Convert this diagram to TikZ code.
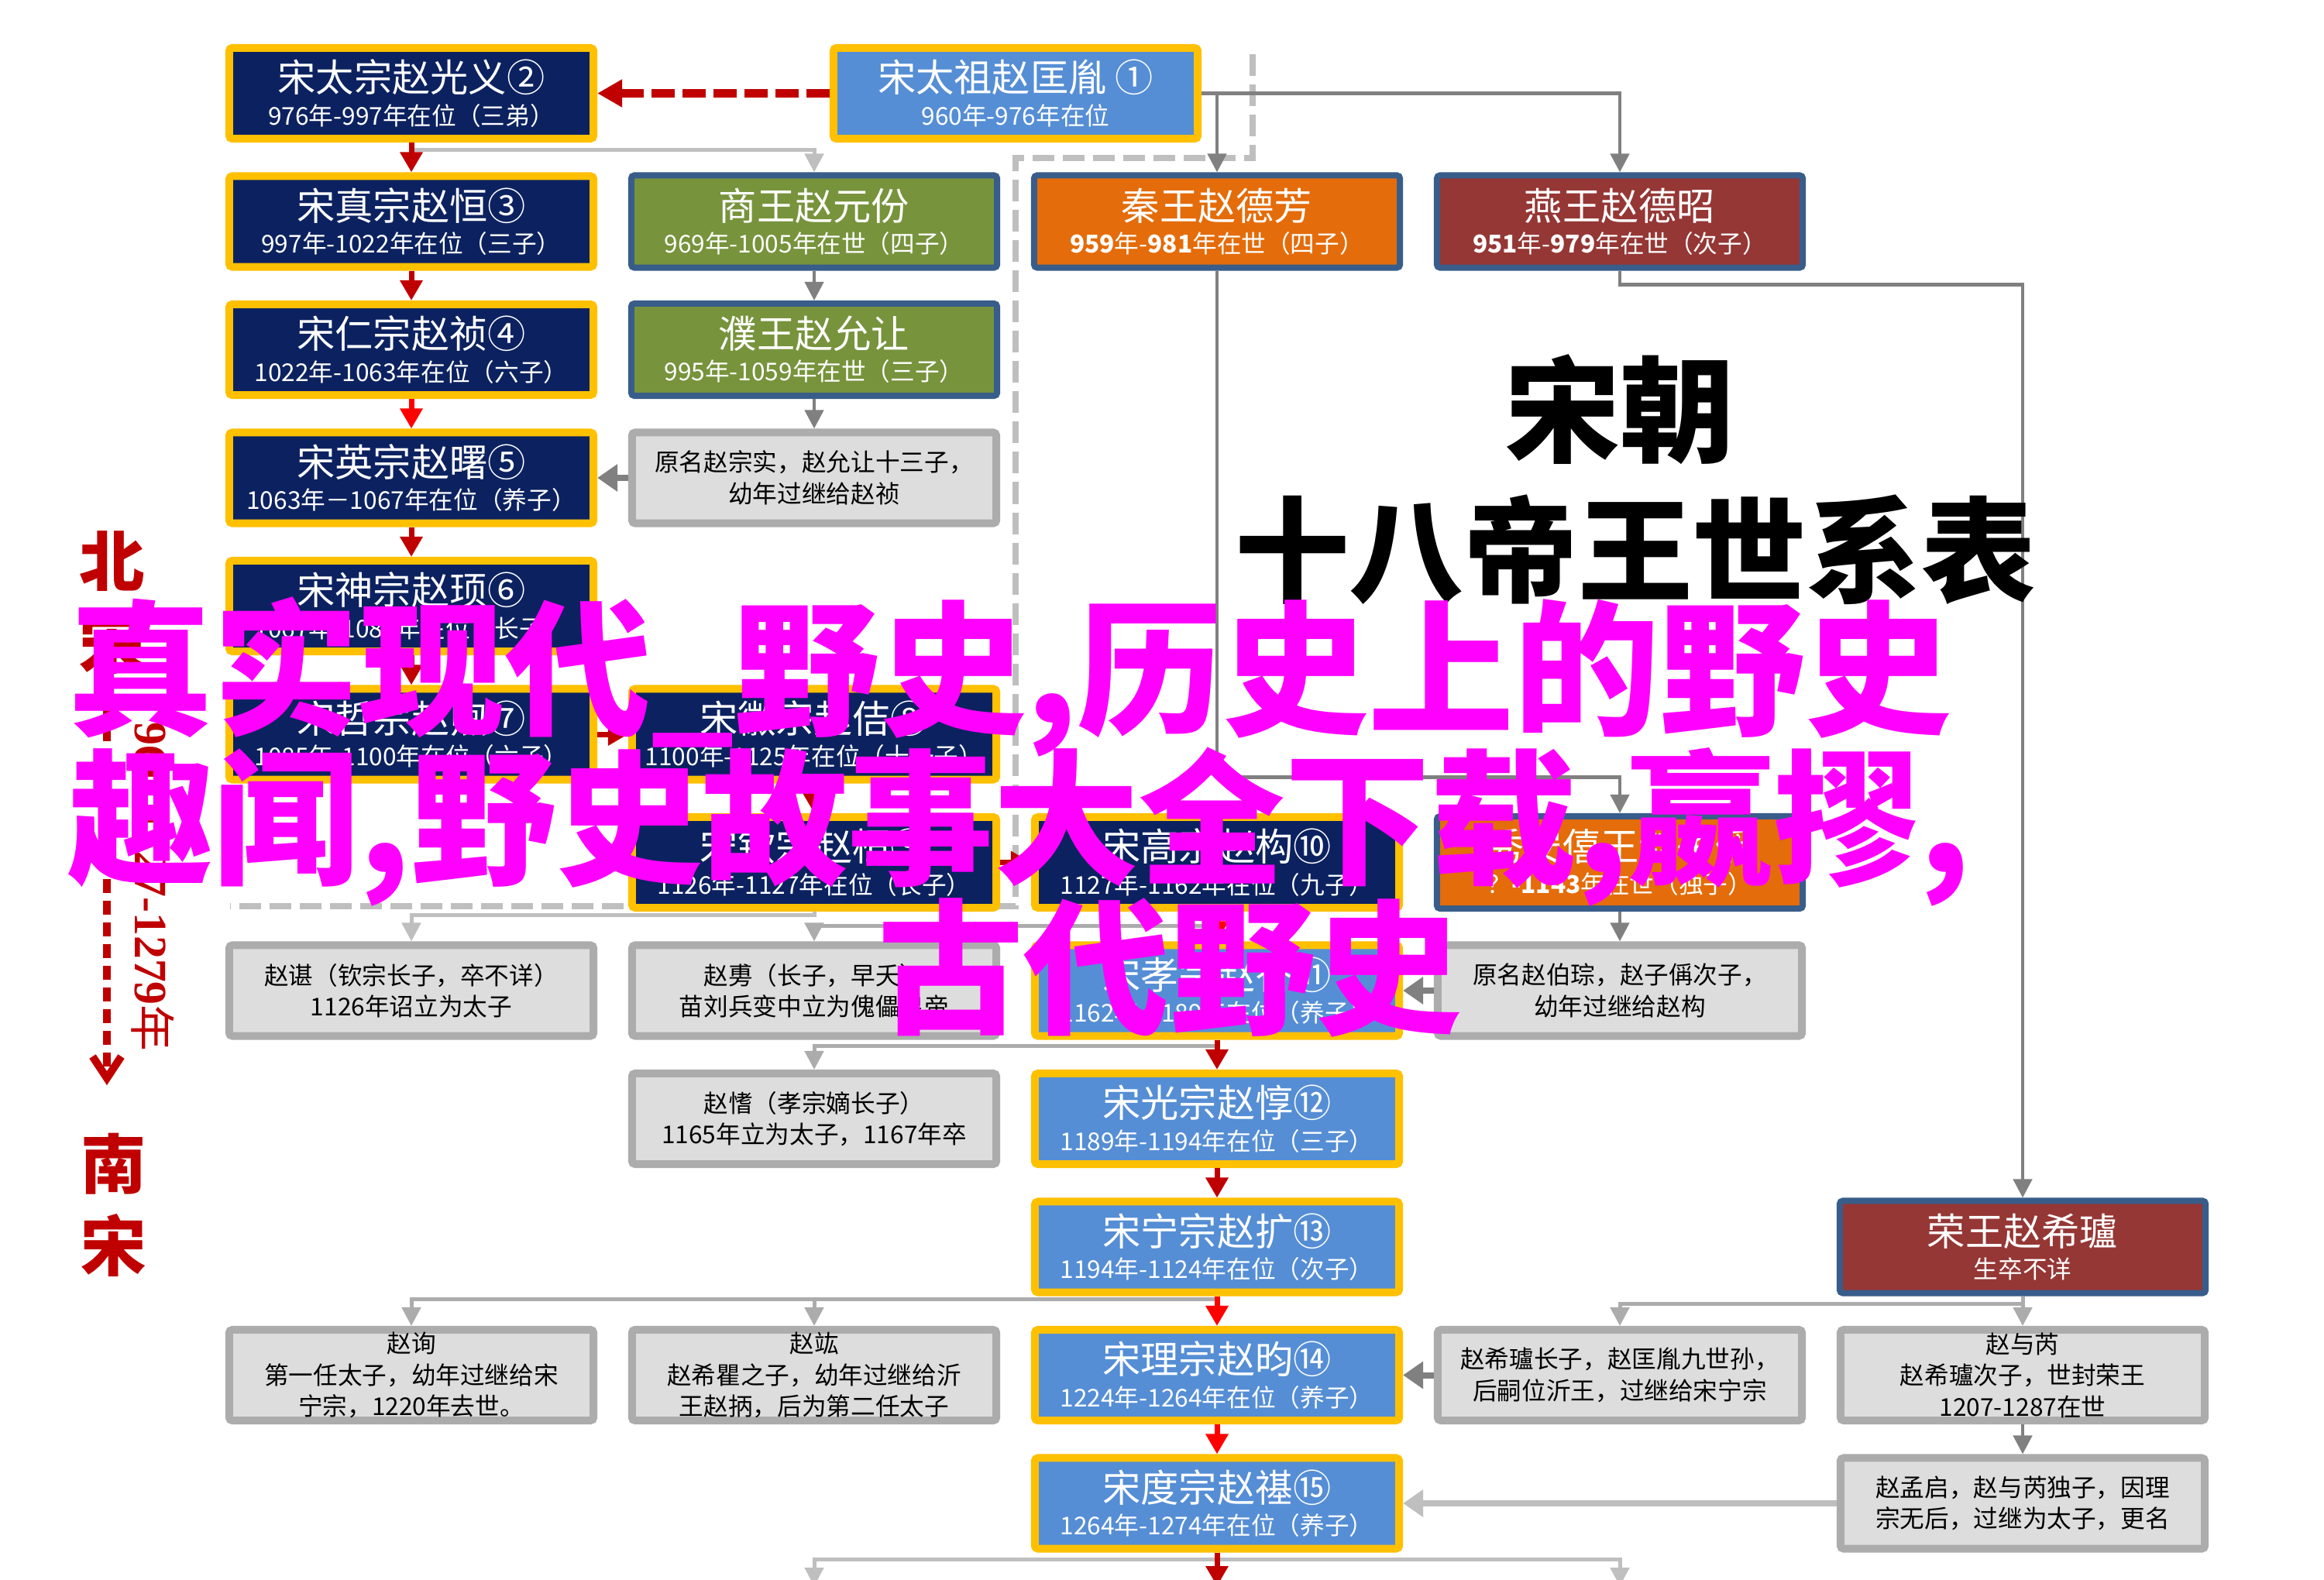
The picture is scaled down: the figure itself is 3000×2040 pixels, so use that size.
\documentclass[tikz,border=0pt]{standalone}
\usepackage{fontspec}
\setmainfont{Noto Sans CJK SC}
\newfontfamily\numfont{Liberation Serif}
\usepackage{tikz}
\usetikzlibrary{arrows.meta}
\usepackage{xcolor}
\definecolor{navy}{RGB}{12,34,96}
\definecolor{gold}{RGB}{255,192,0}
\definecolor{skyblue}{RGB}{85,142,213}
\definecolor{kinggreen}{RGB}{119,147,60}
\definecolor{kingorange}{RGB}{228,108,10}
\definecolor{brick}{RGB}{149,55,53}
\definecolor{slate}{RGB}{56,93,138}
\definecolor{notefill}{RGB}{221,221,221}
\definecolor{noteline}{RGB}{172,172,172}
\definecolor{darkred}{RGB}{192,0,0}
\definecolor{seopink}{RGB}{255,0,255}
\newcommand{\boxtext}[2]{{\fontsize{14}{16}\selectfont #1}\\[1pt]#2}
\tikzset{
	box/.style={draw, line width=1mm, minimum width=4.7cm, minimum height=1.17cm, inner sep=0pt, align=center, text=white, rounded corners=0.4mm, font=\fontsize{9}{11}\selectfont},
	bsemp/.style={box, draw=gold, fill=navy},
	nsemp/.style={box, draw=gold, fill=skyblue},
	prince/.style={box, draw=slate, line width=0.8mm, minimum width=4.72cm, minimum height=1.19cm},
	note/.style={box, draw=noteline, fill=notefill, text=black, font=\fontsize{9}{11.5}\selectfont},
	redline/.style={draw=darkred, line width=0.7mm, -{Triangle[length=2.6mm,width=2.8mm]}},
	reddash/.style={draw=red, line width=0.7mm, dash pattern=on 1.6mm off 0.8mm, -{Triangle[length=2.6mm,width=2.8mm]}},
	topred/.style={draw=darkred, line width=1.1mm, dash pattern=on 3mm off 1mm, -{Triangle[length=3.2mm,width=3.4mm]}},
	grayline/.style={draw=gray, line width=0.45mm, -{Triangle[length=2.4mm,width=2.4mm]}},
	midline/.style={draw=noteline, line width=0.5mm, -{Triangle[length=2.4mm,width=2.4mm]}},
	paleline/.style={draw=lightgray, line width=0.5mm, -{Triangle[length=2.4mm,width=2.4mm]}},
	notearrow/.style={draw=gray, line width=0.8mm, -{Triangle[length=2.6mm,width=3.4mm]}},
	bound/.style={draw=lightgray, line width=0.8mm, dash pattern=on 2.8mm off 1.1mm},
	callig/.style={text=darkred, align=center, font=\fontsize{24}{30}\selectfont\bfseries},
	bigtitle/.style={text=black, font=\fontsize{42}{48}\selectfont\bfseries},
	seo/.style={text=seopink, anchor=base west, inner sep=0pt, font=\fontsize{53.5}{60}\selectfont\bfseries}
}

\begin{document}
\begin{tikzpicture}[x=0.01cm, y=-0.01cm]
			\useasboundingbox[fill=white] (0,0) rectangle (3000,2040);
			\draw[bound] (1617,70) -- (1617,204) -- (1311,204) -- (1311,1170) -- (297,1170);
			\node[nsemp] (1) at (1311,120.5) {\boxtext{宋太祖赵匡胤 ①}{960年-976年在位}};
			\node[bsemp] (2) at (531,120.5) {\boxtext{宋太宗赵光义②}{976年-997年在位（三弟）}};
			\node[bsemp] (3) at (531,286) {\boxtext{宋真宗赵恒③}{997年-1022年在位（三子）}};
			\node[bsemp] (4) at (531,451.5) {\boxtext{宋仁宗赵祯④}{1022年-1063年在位（六子）}};
			\node[bsemp] (5) at (531,617) {\boxtext{宋英宗赵曙⑤}{1063年－1067年在位（养子）}};
			\node[bsemp] (6) at (531,782.5) {\boxtext{宋神宗赵顼⑥}{1067年-1085年在位（长子）}};
			\node[bsemp] (7) at (531,948) {\boxtext{宋哲宗赵煦⑦}{1085年-1100年在位（六子）}};
			\node[bsemp] (8) at (1051,948) {\boxtext{宋徽宗赵佶⑧}{1100年-1125年在位（十一子）}};
			\node[bsemp] (9) at (1051,1113.5) {\boxtext{宋钦宗赵桓⑨}{1126年-1127年在位（长子）}};
			\node[bsemp] (10) at (1571,1113.5) {\boxtext{宋高宗赵构⑩}{1127年-1162年在位（九子）}};
			\node[nsemp] (11) at (1571,1279) {\boxtext{宋孝宗赵昚⑪}{1162年-1189年在位（养子）}};
			\node[nsemp] (12) at (1571,1444.5) {\boxtext{宋光宗赵惇⑫}{1189年-1194年在位（三子）}};
			\node[nsemp] (13) at (1571,1610) {\boxtext{宋宁宗赵扩⑬}{1194年-1124年在位（次子）}};
			\node[nsemp] (14) at (1571,1775.5) {\boxtext{宋理宗赵昀⑭}{1224年-1264年在位（养子）}};
			\node[nsemp] (15) at (1571,1941) {\boxtext{宋度宗赵禥⑮}{1264年-1274年在位（养子）}};
			\node[prince, fill=kinggreen] (shang) at (1051,286) {\boxtext{商王赵元份}{969年-1005年在世（四子）}};
			\node[prince, fill=kinggreen] (pu) at (1051,451.5) {\boxtext{濮王赵允让}{995年-1059年在世（三子）}};
			\node[prince, fill=kingorange] (qin) at (1571,286) {\boxtext{秦王赵德芳}{\textbf{959}年-\textbf{981}年在世（四子）}};
			\node[prince, fill=brick] (yan) at (2091,286) {\boxtext{燕王赵德昭}{\textbf{951}年-\textbf{979}年在世（次子）}};
			\node[prince, fill=kingorange] (xiu) at (2091,1113.5) {\boxtext{秀安僖王赵子偁}{？\textbf{-1143}年在世（独子）}};
			\node[prince, fill=brick] (rong) at (2611,1610) {\boxtext{荣王赵希瓐}{生卒不详}};
			\node[note] (zongshi) at (1051,617) {原名赵宗实，赵允让十三子，\\幼年过继给赵祯};
			\node[note] (bocong) at (2091,1279) {原名赵伯琮，赵子偁次子，\\幼年过继给赵构};
			\node[note] (zhen) at (531,1279) {赵谌（钦宗长子，卒不详）\\1126年诏立为太子};
			\node[note] (fu) at (1051,1279) {赵旉（长子，早夭）\\苗刘兵变中立为傀儡皇帝};
			\node[note] (qi) at (1051,1444.5) {赵愭（孝宗嫡长子）\\1165年立为太子，1167年卒};
			\node[note] (xun) at (531,1775.5) {赵询\\第一任太子，幼年过继给宋\\宁宗，1220年去世。};
			\node[note] (hong) at (1051,1775.5) {赵竑\\赵希瞿之子，幼年过继给沂\\王赵抦，后为第二任太子};
			\node[note] (xilu) at (2091,1775.5) {赵希瓐长子，赵匡胤九世孙，\\后嗣位沂王，过继给宋宁宗};
			\node[note] (yurui) at (2611,1775.5) {赵与芮\\赵希瓐次子，世封荣王\\1207-1287在世};
			\node[note] (mengqi) at (2611,1941) {赵孟启，赵与芮独子，因理\\宗无后，过继为太子，更名};
			\coordinate (b2) at (1051,2048);
			\coordinate (b3) at (1571,2048);
			\coordinate (b4) at (2091,2048);
			\draw[topred] (1) -- (2);
			\draw[grayline] (1.east) -| (yan.north);
			\draw[grayline] (1.east -| qin) -- (qin.north);
			\draw[paleline] (2.south) -- ++(0,9) -| (shang.north);
			\draw[grayline] (yan.south) -- ++(0,18) -| (rong.north);
			\draw[grayline] (qin.south) -- ++(0,654) -| (xiu.north);
			\draw[paleline] (9.south) -- ++(0,4) -| (zhen.north);
			\draw[midline] (10.south) -- ++(0,18) -| (fu.north);
			\draw[midline] (11.south) -- ++(0,8) -| (qi.north);
			\draw[midline] (13.south) -- ++(0,4) -| (xun.north);
			\draw[midline] (13.south) -- ++(0,4) -| (hong.north);
			\draw[midline] (rong.south) -- ++(0,10) -| (xilu.north);
			\draw[midline] (rong) -- (yurui);
			\draw[paleline] (15.south) -- ++(0,9) -| (b2);
			\draw[paleline] (15.south) -- ++(0,9) -| (b4);
			\foreach \a/\b in {shang/pu,pu/zongshi,xiu/bocong,yurui/mengqi}
			\draw[grayline] (\a) -- (\b);
			\foreach \a/\b in {zongshi/5,bocong/11,xilu/14}
			\draw[notearrow] (\a) -- (\b);
			\draw[notearrow, draw=lightgray] (mengqi) -- (15);
			\foreach \a/\b in {2/3,3/4,5/6,6/7,7/8,8/9,9/10,11/12,12/13}
			\draw[redline] (\a) -- (\b);
			\foreach \a/\b in {4/5,10/11,13/14,14/15}
			\draw[reddash] (\a) -- (\b);
			\draw[redline] (15) -- (b3);
			\node[callig] (bei) at (145,778) {北\\宋};
			\node[callig] (nan) at (147,1556) {南\\宋};
			\draw[darkred, line width=1mm, dash pattern=on 1.8mm off 1mm, -{Straight Barb[length=2.8mm,width=3.7mm]}, shorten >=5mm] (bei.south -| 138,0) -- (nan.north -| 138,0);
			\node[text=darkred, rotate=-90, font=\fontsize{17}{20}\selectfont] (span) at (197,1145) {{\numfont\bfseries 960-1127-1279}年};
			\node[bigtitle] (chao) at (2091,529) {宋朝};
			\node[bigtitle] (biao) at (2111,710) {十八帝王世系表};
			\node[seo] (seo1) at (87,934) {真实现代\_野史,历史上的野史};
			\node[seo] (seo2) at (87,1127) {趣闻,野史故事大全下载,嬴摎,};
			\node[seo] (seo3) at (1133,1320) {古代野史};
\end{tikzpicture}
\end{document}
